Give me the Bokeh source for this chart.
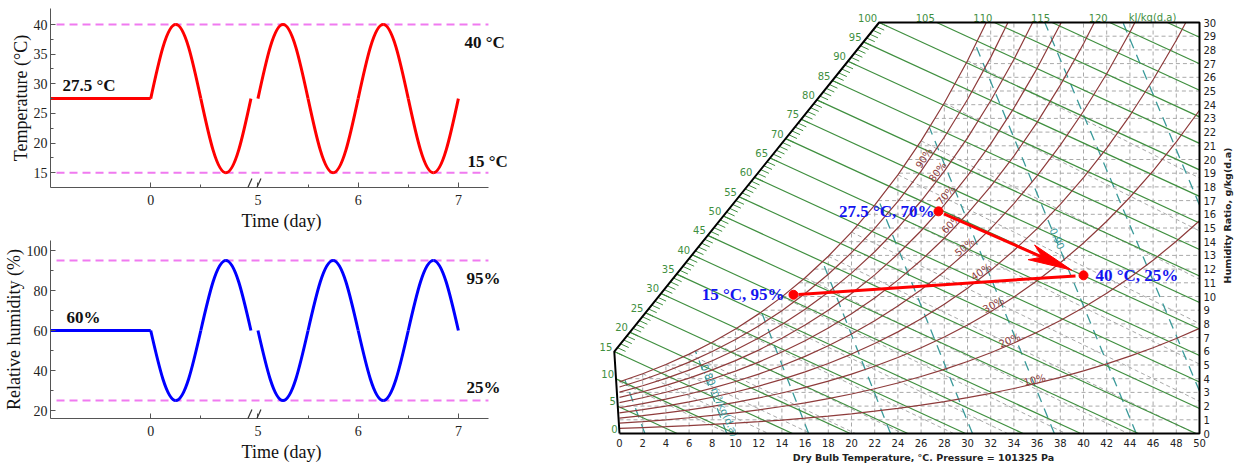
import numpy as np
from bokeh.plotting import figure
from bokeh.layouts import row, column
from bokeh.models import Range1d, FixedTicker, Label, Arrow
from bokeh.core.properties import value
from bokeh.embed import file_html
from bokeh.resources import INLINE

# ============================ DATA ============================
# Left panels: imposed boundary conditions (time axis broken between day 1 and day 5)
pre_days = [-1.0, 0.0]
cycle1_days = [0.0, 0.25, 0.5, 0.75, 1.0]
cycle2_days = [5.0, 5.25, 5.5, 5.75, 6.0, 6.25, 6.5, 6.75, 7.0]
temp_initial = 27.5
temp_cycle1 = [27.5, 40, 27.5, 15, 27.5]
temp_cycle2 = [27.5, 40, 27.5, 15, 27.5, 40, 27.5, 15, 27.5]
temp_limits = [40, 15]
rh_initial = 60
rh_cycle1 = [60, 25, 60, 95, 60]
rh_cycle2 = [60, 25, 60, 95, 60, 25, 60, 95, 60]
rh_limits = [95, 25]
day_ticks = [0, 5, 6, 7]
day_minor_ticks = [0.5, 5.5, 6.5]
temp_ticks = [15, 20, 25, 30, 35, 40]
rh_ticks = [20, 40, 60, 80, 100]

# Right panel: psychrometric chart
pressure_kpa = 101.325
sat_temp = [0, 2, 4, 6, 8, 10, 12, 14, 16, 18, 20, 22, 24, 26, 28, 30,
            32, 34, 36, 38, 40, 42, 44, 46, 48, 50]
sat_pressure = [0.6112, 0.7060, 0.8135, 0.9353, 1.0729, 1.2281, 1.4027, 1.5989,
                1.8187, 2.0647, 2.3392, 2.6452, 2.9856, 3.3637, 3.7828, 4.2467,
                4.7592, 5.3247, 5.9479, 6.6328, 7.3849, 8.2096, 9.1118, 10.0978,
                11.1750, 12.3440]
rh_levels = [0.1, 0.2, 0.3, 0.4, 0.5, 0.6, 0.7, 0.8, 0.9, 1.0]
enthalpy_levels = list(range(0, 130, 5))
wetbulb_levels = list(range(0, 32, 2))
volume_levels = [0.78, 0.80, 0.82, 0.84, 0.86, 0.88, 0.90, 0.92, 0.94, 0.96]
db_ticks = list(range(0, 51, 2))
w_ticks = list(range(0, 31))
state_temp = [15.0, 27.5, 40.0]
state_rh = [0.95, 0.70, 0.25]
state_text = ["15 °C, 95%", "27.5 °C, 70%", "40 °C, 25%"]

# ============================ STYLE ============================
SERIF = "Liberation Serif"
SANS = "DejaVu Sans"
GREEN = "#3f8f3f"
BROWN = "#8e3b3b"
TEAL = "#3a9a9a"
GRAYD = "#a9a9a9"
VIOLET = "#f07af0"

# ======================= LEFT: time series =======================
GAP = 7  # width of the axis break, hundredths of a day
X_AXIS_END = 337
X_FRAME_END = 361


def day_pos(days):
    d = np.asarray(days, dtype=float)
    return np.where(d <= 1.0, d * 100.0, (d - 5.0) * 100.0 + 100.0 + GAP)


def add_wave(p, days, vals, mean, color):
    xs = day_pos(days)
    keys = ("x0", "y0", "x1", "y1", "cx0", "cy0", "cx1", "cy1")
    segs = {k: [] for k in keys}
    for i in range(len(xs) - 1):
        xa, xb = float(xs[i]), float(xs[i + 1])
        ya, yb = float(vals[i]), float(vals[i + 1])
        dx, dy = xb - xa, yb - ya
        if abs(ya - mean) < 1e-9:      # leaving the mean towards an extreme
            c0 = (xa + 0.326 * dx, ya + 0.512 * dy)
            c1 = (xa + 0.638 * dx, yb)
        else:                          # from an extreme back to the mean
            c0 = (xa + 0.362 * dx, ya)
            c1 = (xa + 0.674 * dx, ya + 0.488 * dy)
        for k, v in zip(keys, (xa, ya, xb, yb, c0[0], c0[1], c1[0], c1[1])):
            segs[k].append(v)
    p.bezier(line_color=color, line_width=3, **segs)


def series_fig(height, yr, top, bottom, ticks, ylabel):
    p = figure(width=580, height=height, x_range=Range1d(-100, X_FRAME_END),
               y_range=Range1d(*yr), output_backend="svg", toolbar_location=None,
               min_border_left=43, min_border_right=68,
               min_border_top=top, min_border_bottom=bottom)
    p.outline_line_color = None
    p.xgrid.visible = False
    p.ygrid.visible = False
    xt = [int(round(float(v))) for v in day_pos(day_ticks)]
    p.xaxis.ticker = FixedTicker(ticks=xt, minor_ticks=[float(v) for v in day_pos(day_minor_ticks)])
    p.xaxis.major_label_overrides = {k: str(d) for k, d in zip(xt, day_ticks)}
    p.xaxis.bounds = (-100, X_AXIS_END)
    minors = [(a + b) / 2 for a, b in zip(ticks[:-1], ticks[1:])]
    p.yaxis.ticker = FixedTicker(ticks=ticks, minor_ticks=minors)
    p.xaxis.axis_label = "Time (day)"
    p.yaxis.axis_label = ylabel
    for ax in (p.xaxis[0], p.yaxis[0]):
        ax.axis_line_color = "#555555"
        ax.major_tick_line_color = "#555555"
        ax.minor_tick_line_color = "#555555"
        ax.major_tick_in = 5
        ax.major_tick_out = 0
        ax.minor_tick_in = 3
        ax.minor_tick_out = 0
        ax.major_label_text_font = SERIF
        ax.major_label_text_font_size = "14px"
        ax.major_label_text_color = "#222222"
        ax.axis_label_text_font = SERIF
        ax.axis_label_text_font_size = "18px"
        ax.axis_label_text_font_style = "normal"
        ax.axis_label_text_color = "#111111"
    p.xaxis.major_label_standoff = 7
    p.xaxis.axis_label_standoff = 3
    p.yaxis.major_label_standoff = 3
    p.yaxis.axis_label_standoff = 0
    return p


def add_break(p, y_axis, h):
    for x0 in (97, 106):
        p.add_layout(Arrow(start=None, end=None, x_start=x0, y_start=y_axis,
                           x_end=x0 + 4, y_end=y_axis + h,
                           line_color="#333333", line_width=1.2))


def bold_label(p, x, y, text):
    p.add_layout(Label(x=x, y=y, text=text, text_font=SERIF, text_font_style="bold",
                       text_font_size="17px", text_color="#111111",
                       text_align="left", text_baseline="middle"))


# --- temperature panel ---
T_RANGE = (12.5, 42.7)
pt = series_fig(233, T_RANGE, 8, 45, temp_ticks, "Temperature (°C)")
t_scale = 180.0 / (T_RANGE[1] - T_RANGE[0])
pt.segment(x0=-94, x1=X_AXIS_END, y0=temp_limits, y1=temp_limits, line_color=VIOLET,
           line_width=2, line_dash="8 5")
pt.line(x=day_pos(pre_days), y=[temp_initial, temp_initial], line_color="red", line_width=3)
add_wave(pt, cycle1_days, temp_cycle1, temp_initial, "red")
add_wave(pt, cycle2_days, temp_cycle2, temp_initial, "red")
add_break(pt, T_RANGE[0], 9 / t_scale)
bold_label(pt, -88, temp_initial + 13.5 / t_scale, f"{temp_initial} °C")
bold_label(pt, 313, temp_limits[0] - 18 / t_scale, f"{temp_limits[0]} °C")
bold_label(pt, 316, temp_limits[1] + 11 / t_scale, f"{temp_limits[1]} °C")

# --- relative humidity panel ---
RH_RANGE = (16.0, 105.0)
pr = series_fig(233, RH_RANGE, 7, 48, rh_ticks, "Relative humidity (%)")
rh_scale = 178.0 / (RH_RANGE[1] - RH_RANGE[0])
pr.segment(x0=-94, x1=X_AXIS_END, y0=rh_limits, y1=rh_limits, line_color=VIOLET,
           line_width=2, line_dash="8 5")
pr.line(x=day_pos(pre_days), y=[rh_initial, rh_initial], line_color="blue", line_width=3)
add_wave(pr, cycle1_days, rh_cycle1, rh_initial, "blue")
add_wave(pr, cycle2_days, rh_cycle2, rh_initial, "blue")
add_break(pr, RH_RANGE[0], 9 / rh_scale)
bold_label(pr, -84, rh_initial + 13 / rh_scale, f"{rh_initial}%")
bold_label(pr, 315, rh_limits[0] - 18 / rh_scale, f"{rh_limits[0]}%")
bold_label(pr, 315, rh_limits[1] + 13 / rh_scale, f"{rh_limits[1]}%")

# ======================= RIGHT: psychrometric chart =======================
PAGE_X0 = 580
PSY_W, PSY_H = 657, 466
KX, KY = 11.6, 13.7          # pixels per degC and per g/kg
ORIGIN_X, ORIGIN_Y = 619, 433  # page pixel of (0 degC, 0 g/kg)
X0 = (PAGE_X0 - ORIGIN_X) / KX
X1 = X0 + PSY_W / KX
Y1 = ORIGIN_Y / KY
Y0 = Y1 - PSY_H / KY
kx = PSY_W / (X1 - X0)
ky = PSY_H / (Y1 - Y0)
TMAX, WMAX = 50.0, 30.0


def pgx(x):   # page x pixel -> chart temperature
    return (x - ORIGIN_X) / KX


def pgy(y):   # page y pixel -> chart humidity ratio
    return (ORIGIN_Y - y) / KY


ps = figure(width=PSY_W, height=PSY_H, x_range=Range1d(X0, X1), y_range=Range1d(Y0, Y1),
            output_backend="svg", toolbar_location=None, min_border=0,
            x_axis_location=None, y_axis_location=None)
ps.outline_line_color = None
for g in ps.grid:
    g.visible = False

sat_t = np.array(sat_temp, dtype=float)
sat_p = np.array(sat_pressure, dtype=float)


def w_rh(t, phi):
    pv = phi * np.interp(t, sat_t, sat_p)
    return 622.0 * pv / (pressure_kpa - pv)


w_sat = w_rh(sat_t, 1.0)


def t_sat(w):
    return np.interp(w, w_sat, sat_t)


def clip_top(ts, ws):
    xs, ys = [ts[0]], [ws[0]]
    for i in range(1, len(ts)):
        if ws[i] >= WMAX:
            f = (WMAX - ws[i - 1]) / (ws[i] - ws[i - 1])
            xs.append(ts[i - 1] + f * (ts[i] - ts[i - 1]))
            ys.append(WMAX)
            break
        xs.append(ts[i])
        ys.append(ws[i])
    return xs, ys


# --- dashed grid under the saturation curve ---
gx0, gx1, gy0, gy1 = [], [], [], []
for t in db_ticks[1:-1]:
    gx0.append(t); gx1.append(t); gy0.append(0.0)
    gy1.append(float(min(w_rh(t, 1.0), WMAX)))
for w in w_ticks[1:-1]:
    gx0.append(float(max(t_sat(w), 0.0))); gx1.append(TMAX)
    gy0.append(w); gy1.append(w)
ps.segment(x0=gx0, y0=gy0, x1=gx1, y1=gy1, line_color=GRAYD, line_width=1, line_dash="4 3")

# --- wet-bulb lines ---
wx0, wx1, wy0, wy1 = [], [], [], []
for twb in wetbulb_levels:
    ws = float(w_rh(twb, 1.0))
    if ws > WMAX:
        continue
    a = (2501 - 2.326 * twb) * ws
    w_end = (a - 1006 * (TMAX - twb)) / (2501 + 1.86 * TMAX - 4.186 * twb)
    if w_end >= 0:
        te, we = TMAX, w_end
    else:
        te, we = twb + a / 1006.0, 0.0
    wx0.append(twb); wy0.append(ws); wx1.append(te); wy1.append(we)
ps.segment(x0=wx0, y0=wy0, x1=wx1, y1=wy1, line_color=GRAYD, line_width=1, line_dash="4 3")


# --- specific volume lines ---
def t_vol(v, w):
    return v * pressure_kpa / (0.287042 * (1 + 1.6078 * w / 1000.0)) - 273.15


vx0, vx1, vy0, vy1 = [], [], [], []
for v in volume_levels:
    if t_vol(v, 0.0) <= TMAX:
        w_lo = 0.0
    else:
        w_lo = (v * pressure_kpa / (0.287042 * (TMAX + 273.15)) - 1) / 1.6078 * 1000.0
    if w_lo >= WMAX:
        continue
    if t_vol(v, WMAX) > t_sat(WMAX):
        w_hi = WMAX
    else:
        lo, hi = w_lo, WMAX
        for _ in range(60):
            mid = 0.5 * (lo + hi)
            if t_vol(v, mid) > t_sat(mid):
                lo = mid
            else:
                hi = mid
        w_hi = 0.5 * (lo + hi)
    vx0.append(t_vol(v, w_lo)); vy0.append(w_lo)
    vx1.append(t_vol(v, w_hi)); vy1.append(w_hi)
ps.segment(x0=vx0, y0=vy0, x1=vx1, y1=vy1, line_color=TEAL, line_width=1.3, line_dash="10 7")

# --- enthalpy lines and scale ---
H_T = 1.006
H_W = (2501 + 1.86 * 44) / 1000.0


def h_of(t, w):
    return H_T * t + H_W * w


SCALE = [(0.0, 0.0), (-0.45, (15 + 0.45 * H_T) / H_W),
         ((100 - WMAX * H_W) / H_T, WMAX), (TMAX, WMAX)]


def scale_point(h):
    for (ta, wa), (tb, wb) in zip(SCALE[:-1], SCALE[1:]):
        ha, hb = h_of(ta, wa), h_of(tb, wb)
        if ha - 1e-9 <= h <= hb + 1e-9:
            f = (h - ha) / (hb - ha)
            return ta + f * (tb - ta), wa + f * (wb - wa)
    return None


def h_end(h):
    w = (h - H_T * TMAX) / H_W
    if w >= 0:
        return TMAX, w
    return h / H_T, 0.0


hx0, hx1, hy0, hy1 = [], [], [], []
for h in enthalpy_levels:
    if h == 0:
        continue
    s = scale_point(h)
    e = h_end(h)
    hx0.append(s[0]); hy0.append(s[1]); hx1.append(e[0]); hy1.append(e[1])
ps.segment(x0=hx0, y0=hy0, x1=hx1, y1=hy1, line_color=GREEN, line_width=1.2)

# small ticks along the diagonal scale
ddx, ddy = kx, -H_T / H_W * ky
nrm = (ddx ** 2 + ddy ** 2) ** 0.5
tick_dt, tick_dw = 9 * ddx / nrm / kx, 9 * ddy / nrm / ky
tx0, ty0 = [], []
for h in range(15, 101):
    s = scale_point(h)
    tx0.append(s[0]); ty0.append(s[1])
ps.segment(x0=tx0, y0=ty0, x1=[t + tick_dt for t in tx0], y1=[w + tick_dw for w in ty0],
           line_color=GREEN, line_width=1)

# enthalpy scale labels
lx, ly, lt = [], [], []
for h in enthalpy_levels:
    if h > 120:
        continue
    s = scale_point(h)
    lx.append(s[0] - 2 / kx); ly.append(s[1] + 5 / ky); lt.append(str(h))
ps.text(x=lx, y=ly, text=lt, text_font=value(SANS), text_font_size="10px",
        text_color=GREEN, text_align="right", text_baseline="middle")
ps.text(x=[pgx(1152)], y=[WMAX + 5 / ky], text=["kJ/kg(d.a)"], text_font=value(SANS),
        text_font_size="10px", text_color=GREEN, text_align="center", text_baseline="middle")

# --- relative humidity curves ---
rxs, rys = [], []
for phi in rh_levels:
    xs, ys = clip_top(list(sat_t), list(w_rh(sat_t, phi)))
    rxs.append(xs); rys.append(ys)
ps.multi_line(xs=rxs, ys=rys, line_color=BROWN, line_width=1.2)

# labels sit on their curves at the humidity ratio where the reference prints them
RH_LABEL_W = [3.7, 6.6, 9.2, 11.6, 13.4, 15.1, 17.2, 18.9, 19.9]
RH_LABEL_ANGLE = [13, 22, 29, 35, 40, 45, 49, 53, 57]
lab_t, lab_w = [], []
for phi, w in zip(rh_levels[:9], RH_LABEL_W):
    wc = w_rh(sat_t, phi)
    lab_t.append(float(np.interp(w, wc, sat_t)) - 0.35)
    lab_w.append(w + 0.2)
ps.text(x=lab_t, y=lab_w,
        text=[f"{int(round(phi * 100))}%" for phi in rh_levels[:9]],
        angle=[np.deg2rad(a) for a in RH_LABEL_ANGLE],
        text_font=value(SANS), text_font_size="10px", text_color=BROWN,
        text_align="center", text_baseline="middle")

# specific volume labels
ps.text(x=[pgx(719), pgx(1057)], y=[pgy(400), pgy(238)],
        text=["0.80 m³/kg(d.a)", "0.90"], angle=[np.deg2rad(-66), np.deg2rad(-66)],
        text_font=value(SANS), text_font_size="10px", text_color=TEAL,
        text_align="center", text_baseline="middle")

# --- chart border ---
bx = [0.0, TMAX, TMAX, SCALE[2][0], SCALE[1][0], 0.0]
by = [0.0, 0.0, WMAX, WMAX, SCALE[1][1], 0.0]
ps.line(x=bx, y=by, line_color="black", line_width=2)

# --- axis tick labels ---
ps.text(x=db_ticks, y=[-9 / ky] * len(db_ticks), text=[str(t) for t in db_ticks],
        text_font=value(SANS), text_font_size="10px", text_color="#222222",
        text_align="center", text_baseline="middle")
ps.text(x=[TMAX + 4 / kx] * len(w_ticks), y=w_ticks, text=[str(w) for w in w_ticks],
        text_font=value(SANS), text_font_size="10px", text_color="#222222",
        text_align="left", text_baseline="middle")
ps.text(x=[pgx(923)], y=[pgy(457)], text=["Dry Bulb Temperature, °C. Pressure = 101325 Pa"],
        text_font=value(SANS), text_font_size="9.5px", text_font_style="bold",
        text_color="#222222", text_align="center", text_baseline="middle")
ps.text(x=[pgx(1227)], y=[pgy(215)], text=["Humidity Ratio, g/kg(d.a)"],
        angle=[np.pi / 2], text_font=value(SANS), text_font_size="9.5px", text_font_style="bold",
        text_color="#222222", text_align="center", text_baseline="middle")

# --- process states and path ---
st_t = np.array(state_temp)
st_w = np.array([float(w_rh(t, phi)) for t, phi in zip(state_temp, state_rh)])


def to_px(t, w):
    return np.array([(t - X0) * kx, (w - Y0) * ky])


def to_data(v):
    return v[0] / kx + X0, v[1] / ky + Y0


P15, P27, P40 = (to_px(t, w) for t, w in zip(st_t, st_w))

# plain path 15 °C -> 40 °C
u = (P40 - P15) / np.linalg.norm(P40 - P15)
a0, a1 = to_data(P15 + 5 * u), to_data(P40 - 8 * u)
ps.line(x=[a0[0], a1[0]], y=[a0[1], a1[1]], line_color="red", line_width=3)

# arrow 27.5 °C -> 40 °C
u = (P40 - P27) / np.linalg.norm(P40 - P27)
n = np.array([-u[1], u[0]])
tip = P40 - 13 * u
s0, s1 = to_data(P27 + 6 * u), to_data(tip - 28 * u)
ps.line(x=[s0[0], s1[0]], y=[s0[1], s1[1]], line_color="red", line_width=3)
head = [tip, tip - 44 * u + 8 * n, tip - 32 * u, tip - 44 * u - 8 * n]
hd = [to_data(q) for q in head]
ps.patch(x=[q[0] for q in hd], y=[q[1] for q in hd], fill_color="red", line_color="red",
         line_width=1)

ps.scatter(x=st_t, y=st_w, size=9, fill_color="red", line_color="red")

offs = [("right", -9), ("right", -4), ("left", 12)]
for (t, w), txt, (al, dx) in zip(zip(st_t, st_w), state_text, offs):
    ps.text(x=[t + dx / kx], y=[w], text=[txt], text_font=value(SERIF), text_font_style="bold",
            text_font_size="17px", text_color="#1414f0", text_align=al, text_baseline="middle")

layout = row(column(pt, pr), ps)
open("out.html", "w").write(file_html(layout, INLINE))
